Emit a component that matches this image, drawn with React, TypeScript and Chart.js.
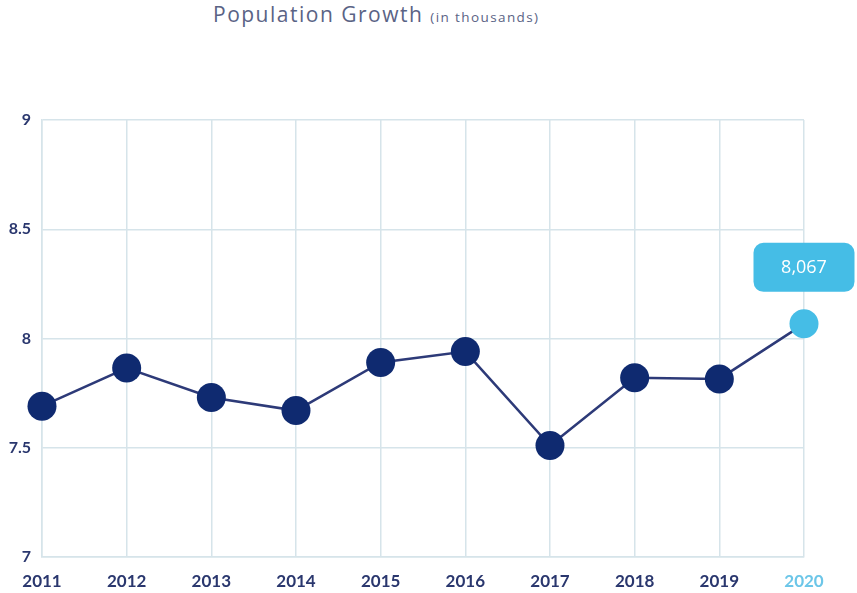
import { useEffect, useRef } from "react";
import { Chart, registerables, Plugin } from "chart.js";

Chart.register(...registerables);

const years = ["2011", "2012", "2013", "2014", "2015", "2016", "2017", "2018", "2019", "2020"];
const population = [7.69, 7.865, 7.73, 7.67, 7.89, 7.94, 7.51, 7.82, 7.815, 8.067];
const yTicks = [7, 7.5, 8, 8.5, 9];

const NAVY = "#0f2a70";
const LINE = "#2d3a78";
const SKY = "#45bde6";
const GRID = "#d6e4ea";
const TICK = "#2a376e";

// Callout above the last point
const calloutPlugin: Plugin<"line"> = {
  id: "callout",
  afterDatasetsDraw(chart) {
    const meta = chart.getDatasetMeta(0);
    const last = meta.data[meta.data.length - 1];
    if (!last) return;
    const value = population[population.length - 1];
    const text = Math.round(value * 1000).toLocaleString("en-US");
    const ctx = chart.ctx;
    const w = 101;
    const h = 49;
    const x = last.x - w / 2;
    const y = last.y - 81;
    ctx.save();
    ctx.fillStyle = SKY;
    ctx.beginPath();
    ctx.roundRect(x, y, w, h, 10);
    ctx.fill();
    ctx.fillStyle = "#ffffff";
    ctx.font = "18px 'Open Sans'";
    ctx.textAlign = "center";
    ctx.textBaseline = "middle";
    ctx.fillText(text, last.x, y + h / 2 + 1);
    ctx.restore();
  },
};

export default function App() {
  const chartRef = useRef<HTMLCanvasElement>(null);
  const chartInstance = useRef<Chart | null>(null);

  useEffect(() => {
    if (!chartRef.current) return;
    if (chartInstance.current) chartInstance.current.destroy();

    const last = population.length - 1;

    chartInstance.current = new Chart(chartRef.current, {
      type: "line",
      data: {
        labels: years,
        datasets: [
          {
            data: population,
            borderColor: LINE,
            borderWidth: 2.5,
            pointRadius: 14.5,
            pointHoverRadius: 14.5,
            pointBackgroundColor: population.map((_, i) => (i === last ? SKY : NAVY)),
            pointBorderWidth: 0,
            tension: 0,
            clip: false,
          },
        ],
      },
      options: {
        animation: false,
        responsive: false,
        maintainAspectRatio: false,
        layout: { padding: { top: 120, right: 53, left: 0, bottom: 0 } },
        plugins: {
          legend: { display: false },
          tooltip: { enabled: false },
        },
        scales: {
          x: {
            offset: false,
            afterFit: (scale) => {
              scale.height = 36;
            },
            grid: { color: GRID, lineWidth: 1.5, drawTicks: false },
            border: { color: GRID, width: 1.5 },
            ticks: {
              padding: 14,
              font: { family: "Lato", size: 17, weight: "bold" },
              color: (c) => (c.index === last ? "#6cc6e8" : TICK),
              maxRotation: 0,
            },
          },
          y: {
            min: 7,
            max: 9,
            afterFit: (scale) => {
              scale.width = 42;
            },
            afterBuildTicks: (scale) => {
              scale.ticks = yTicks.map((v) => ({ value: v }));
            },
            grid: { color: GRID, lineWidth: 1.5, drawTicks: false },
            border: { color: GRID, width: 1.5 },
            ticks: {
              padding: 11,
              font: { family: "Lato", size: 16, weight: "bold" },
              color: TICK,
              callback: (v) => String(v),
            },
          },
        },
      },
      plugins: [calloutPlugin],
    });

    return () => {
      if (chartInstance.current) {
        chartInstance.current.destroy();
        chartInstance.current = null;
      }
    };
  }, []);

  return (
    <div
      style={{
        position: "absolute",
        left: 0,
        top: 0,
        width: 857,
        height: 593,
        background: "#ffffff",
        fontFamily: "'Open Sans', sans-serif",
      }}
    >
      <div
        style={{
          position: "absolute",
          left: 213,
          top: 0,
          color: "#5a6385",
          fontSize: 21,
          letterSpacing: 1.5,
          whiteSpace: "nowrap",
        }}
      >
        Population Growth{" "}
        <span style={{ fontSize: 13.5, letterSpacing: 1.4 }}>(in thousands)</span>
      </div>
      <canvas
        ref={chartRef}
        width={857}
        height={593}
        style={{ position: "absolute", left: 0, top: 0, width: 857, height: 593 }}
      ></canvas>
    </div>
  );
}
